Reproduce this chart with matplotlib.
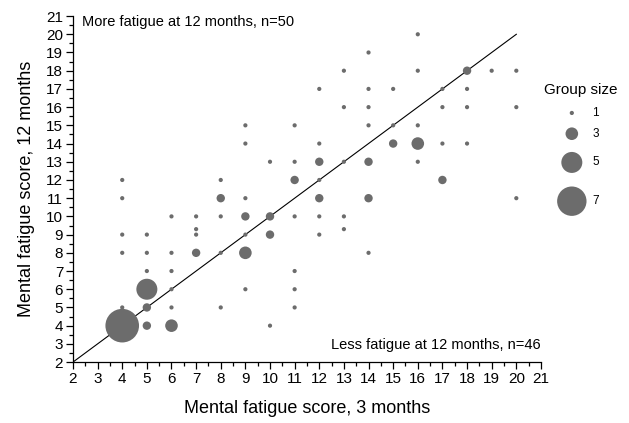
import numpy as np
import matplotlib.pyplot as plt
from matplotlib.ticker import MultipleLocator

# mental fatigue score at 3 months, at 12 months, number of patients at that point
score_3m = [4, 4, 4, 4, 4, 4,
            5, 5, 5, 5, 5, 5,
            6, 6, 6, 6, 6, 6,
            7, 7, 7, 7,
            8, 8, 8, 8, 8,
            9, 9, 9, 9, 9, 9, 9,
            10, 10, 10, 10,
            11, 11, 11, 11, 11, 11, 11,
            12, 12, 12, 12, 12, 12, 12,
            13, 13, 13, 13, 13,
            14, 14, 14, 14, 14, 14, 14,
            15, 15, 15,
            16, 16, 16, 16, 16,
            17, 17, 17, 17,
            18, 18, 18, 18,
            19,
            20, 20, 20]
score_12m = [12, 11, 9, 8, 5, 4,
             9, 8, 7, 6, 5, 4,
             10, 8, 7, 6, 5, 4,
             10, 9.3, 9, 8,
             12, 11, 10, 8, 5,
             15, 14, 11, 10, 9, 8, 6,
             13, 10, 9, 4,
             15, 13, 12, 10, 7, 6, 5,
             17, 14, 13, 12, 11, 10, 9,
             18, 16, 13, 10, 9.3,
             19, 17, 16, 15, 13, 11, 8,
             17, 15, 14,
             20, 18, 15, 14, 13,
             17, 16, 14, 12,
             18, 17, 16, 14,
             18,
             18, 16, 11]
group_n = [1, 1, 1, 1, 1, 8,
           1, 1, 1, 5, 2, 2,
           1, 1, 1, 1, 1, 3,
           1, 1, 1, 2,
           1, 2, 1, 1, 1,
           1, 1, 1, 2, 1, 3, 1,
           1, 2, 2, 1,
           1, 1, 2, 1, 1, 1, 1,
           1, 1, 2, 1, 2, 1, 1,
           1, 1, 1, 1, 1,
           1, 1, 1, 1, 2, 2, 1,
           1, 1, 2,
           1, 1, 1, 3, 1,
           1, 1, 1, 2,
           2, 1, 1, 1,
           1,
           1, 1, 1]
legend_n = [1, 3, 5, 7]

dot_col = '#6c6c6c'
plt.rcParams['font.family'] = ['Liberation Sans', 'DejaVu Sans']


def dot_area(k):
    # diameter grows linearly with group size, ~4.2 px per patient
    d_pt = np.asarray(k) * 4.2 * 0.72
    return d_pt ** 2


fig = plt.figure(figsize=(6.29, 4.23), dpi=100)
ax = fig.add_axes([0.116, 0.144, 0.744, 0.818])

ax.plot([2, 20], [2, 20], color='black', lw=0.8, zorder=1)
ax.scatter(score_3m, score_12m, s=dot_area(group_n), color=dot_col,
           edgecolors='none', zorder=2, clip_on=False)

ax.set_xlim(2, 21)
ax.set_ylim(2, 21)
ax.xaxis.set_major_locator(MultipleLocator(1))
ax.yaxis.set_major_locator(MultipleLocator(1))
ax.xaxis.set_minor_locator(MultipleLocator(0.5))
ax.yaxis.set_minor_locator(MultipleLocator(0.5))
ax.tick_params(which='major', direction='out', length=5, width=0.9, labelsize=11, pad=2)
ax.tick_params(which='minor', direction='out', length=3, width=0.9)
for sp in ['top', 'right']:
    ax.spines[sp].set_visible(False)
for sp in ['left', 'bottom']:
    ax.spines[sp].set_linewidth(0.9)

ax.set_xlabel('Mental fatigue score, 3 months', fontsize=13, labelpad=10)
ax.set_ylabel('Mental fatigue score, 12 months', fontsize=13, labelpad=8)

ax.text(0.019, 0.983, 'More fatigue at 12 months, n=50', transform=ax.transAxes,
        fontsize=10.5, ha='left', va='center')
ax.text(1.0, 0.05, 'Less fatigue at 12 months, n=46', transform=ax.transAxes,
        fontsize=10.5, ha='right', va='center')

# size key to the right of the plot
ax.text(1.085, 0.785, 'Group size', transform=ax.transAxes, fontsize=11,
        ha='center', va='center')
key_y = [0.72, 0.66, 0.577, 0.465]
ax.scatter([1.066] * len(legend_n), key_y, s=dot_area(legend_n), color=dot_col,
           edgecolors='none', transform=ax.transAxes, clip_on=False)
for k, yy in zip(legend_n, key_y):
    ax.text(1.117, yy, str(k), transform=ax.transAxes, fontsize=8.5,
            ha='center', va='center')

fig.savefig('out.png', dpi=100)
